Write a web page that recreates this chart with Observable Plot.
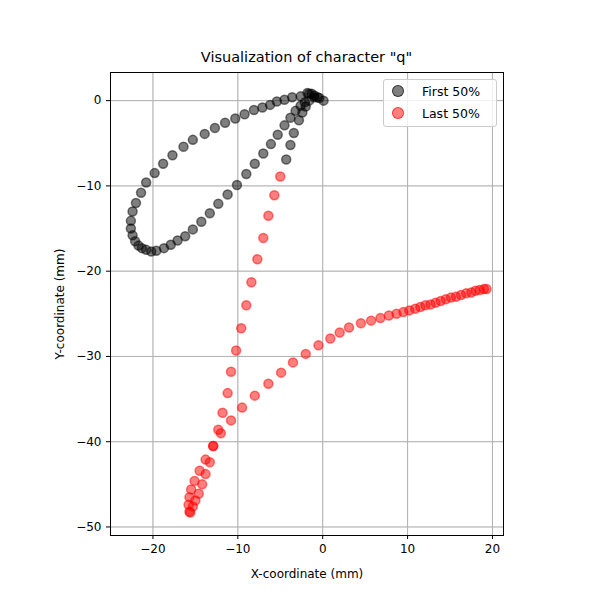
<!DOCTYPE html>
<html><head><meta charset="utf-8">
<script src="https://cdn.jsdelivr.net/npm/d3@7"></script>
<script src="https://cdn.jsdelivr.net/npm/@observablehq/plot@0.6"></script>
<style>
body{margin:0;font-family:"DejaVu Sans",sans-serif;background:#fff}
#wrap{position:relative;width:600px;height:600px}
#title{position:absolute;top:49px;left:110px;width:393px;text-align:center;font-size:14.5px}
#legend{position:absolute;left:383px;top:79px;width:112px;height:46px;border:1px solid #ccc;border-radius:3px;background:rgba(255,255,255,.8);font-size:12.5px}
#legend div{height:20px;line-height:20px;margin-top:2px;padding-left:8px}
#legend span{display:inline-block;width:10px;height:10px;border-radius:50%;margin-right:18px;vertical-align:-1px}
#chart{position:absolute;top:62px;left:0}
</style></head>
<body><div id="wrap">
<div id="title">Visualization of character "q"</div>
<div id="chart"></div>
<div id="legend">
<div><span style="background:rgba(0,0,0,.5);border:1px solid rgba(0,0,0,.6)"></span>First 50%</div>
<div><span style="background:rgba(255,0,0,.5);border:1px solid rgba(255,0,0,.6)"></span>Last 50%</div>
</div>
</div>
<script>
const firstX = [0.1,-0.4,-1.0,-1.6,-1.8,-1.3,-1.0,-0.6,-2.0,-2.4,-2.8,-3.4,-3.8,-4.3,
  -1.6,-2.6,-3.6,-4.5,-5.4,-6.2,-7.1,-8.1,-9.2,-10.3,-11.5,-12.7,-13.9,-15.3,-16.4,-17.7,-18.8,-19.8,-20.8,-21.4,-22.0,-22.4,-22.6,-22.6,-22.4,-22.1,-21.7,-21.3,-20.8,-20.2,-19.6,-18.7,-17.9,-17.1,-16.2,-15.3,-14.3,-13.3,-12.3,-11.2,-10.1,-9.0,-8.0,-7.0,-6.1,-5.3,-4.5,-3.8,-3.2,-2.6,-2.1];
const firstY = [0.0,0.3,0.4,0.0,0.9,0.8,0.6,0.4,-0.7,-1.4,-2.3,-3.8,-5.2,-6.9,
  0.8,0.5,0.4,0.1,-0.1,-0.5,-0.8,-1.1,-1.6,-2.1,-2.6,-3.2,-3.9,-4.6,-5.4,-6.4,-7.4,-8.5,-9.6,-10.8,-12.0,-13.0,-14.1,-15.0,-15.8,-16.5,-17.0,-17.3,-17.5,-17.7,-17.6,-17.3,-16.9,-16.4,-15.9,-15.1,-14.2,-13.2,-12.1,-11.0,-9.9,-8.6,-7.4,-6.2,-5.1,-4.0,-2.9,-2.0,-1.2,-0.6,-0.2];
const lastX = [-5.0,-5.7,-6.4,-7.0,-7.7,-8.4,-9.0,-9.6,-10.2,-10.8,-11.2,-11.8,-12.3,-12.9,-13.8,-14.5,-15.1,-15.5,-15.7,-15.8,-15.7,-15.6,
  -15.3,-15.0,-14.6,-14.2,-13.8,-13.3,-12.9,-12.0,-10.8,-9.5,-8.0,-6.4,-4.9,-3.5,-2.0,-0.5,0.9,2.0,3.1,
  4.5,5.7,6.8,7.8,8.7,9.5,10.2,10.9,11.5,12.1,12.7,13.3,13.9,14.5,15.1,15.7,16.3,16.9,17.5,18.0,18.5,19.0,19.3];
const lastY = [-8.9,-11.1,-13.5,-16.1,-18.6,-21.3,-24.0,-26.7,-29.3,-31.8,-34.3,-36.6,-38.6,-40.5,-42.1,-43.4,-44.6,-45.6,-46.5,-47.4,-48.2,-48.3,
  -47.6,-46.9,-46.1,-45.0,-43.8,-42.4,-40.5,-39.0,-37.5,-36.0,-34.6,-33.2,-31.9,-30.7,-29.7,-28.7,-27.9,-27.2,-26.6,
  -26.1,-25.8,-25.5,-25.2,-25.0,-24.8,-24.6,-24.4,-24.2,-24.0,-23.9,-23.7,-23.5,-23.3,-23.1,-23.0,-22.8,-22.6,-22.5,-22.3,-22.2,-22.1,-22.1];

const first = firstX.map((x, i) => ({x, y: firstY[i]}));
const last = lastX.map((x, i) => ({x, y: lastY[i]}));

const chart = Plot.plot({
  width: 600, height: 538,
  marginTop: 10, marginBottom: 65, marginLeft: 110, marginRight: 97,
  style: {fontFamily: "DejaVu Sans", fontSize: "12px", color: "black"},
  x: {domain: [-25, 21.3], ticks: [-20,-10,0,10,20], grid: true, label: "X-coordinate (mm)", labelAnchor: "center", labelArrow: "none", labelOffset: 42, tickSize: 4},
  y: {domain: [-51, 3.3], ticks: [0,-10,-20,-30,-40,-50], grid: true, label: "Y-coordinate (mm)", labelAnchor: "center", labelArrow: "none", labelOffset: 55, tickSize: 4},
  marks: [
    Plot.gridX([-20,-10,0,10,20], {stroke: "#b0b0b0", strokeOpacity: 1}),
    Plot.gridY([0,-10,-20,-30,-40,-50], {stroke: "#b0b0b0", strokeOpacity: 1}),
    Plot.dot(first, {x: "x", y: "y", r: 4.5, fill: "black", fillOpacity: 0.5, stroke: "black", strokeOpacity: 0.5}),
    Plot.dot(last, {x: "x", y: "y", r: 4.5, fill: "red", fillOpacity: 0.5, stroke: "red", strokeOpacity: 0.5}),
    Plot.frame({stroke: "black"})
  ]
});
d3.select("#chart").append(() => chart);
</script>
</body></html>
